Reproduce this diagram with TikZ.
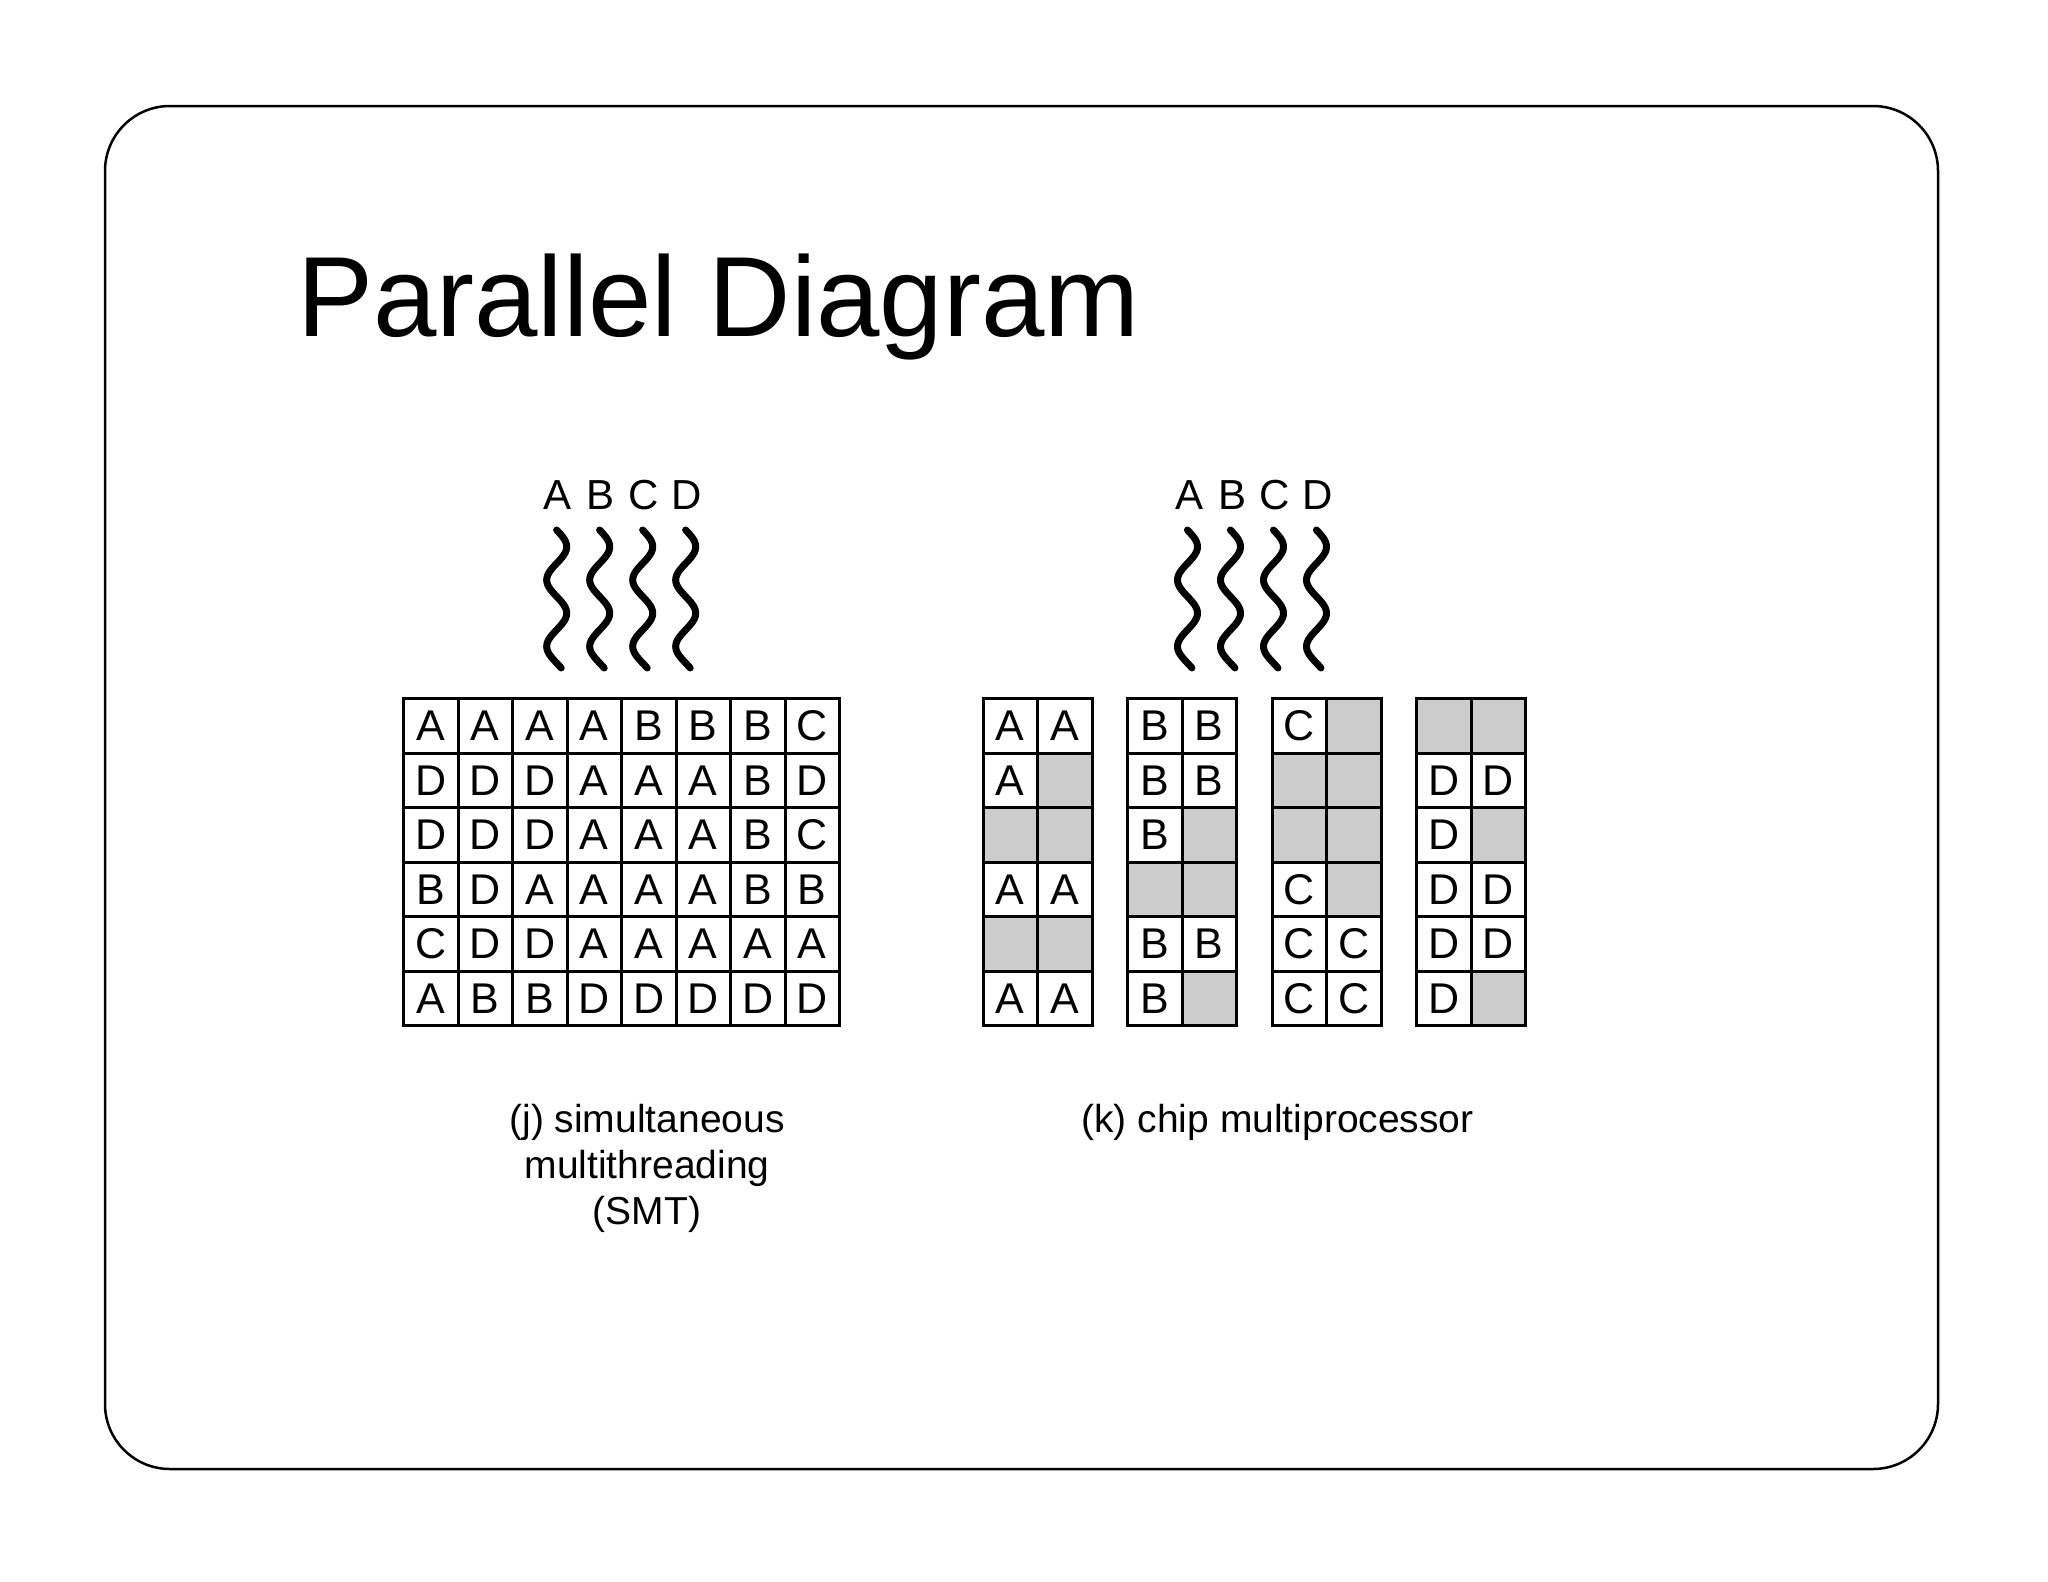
\documentclass[tikz,border=0pt]{standalone}
\usepackage{fontspec}
\setmainfont{Liberation Sans}
\definecolor{cellgray}{RGB}{204,204,204}
\begin{document}
\begin{tikzpicture}[x=1pt,y=-1pt,
  frame/.style={draw=black, line width=2.5pt, rounded corners=65pt, minimum width=1833pt, minimum height=1363pt, inner sep=0pt},
  busy/.style={draw=black, fill=white, line width=3pt, minimum width=54.5pt, minimum height=54.5pt, inner sep=0pt, outer sep=0pt, font=\fontsize{43pt}{43pt}\selectfont},
  idle/.style={busy, fill=cellgray},
  thread/.style={draw=black, line width=7pt, line cap=round},
  tlabel/.style={inner sep=0pt, font=\fontsize{42pt}{42pt}\selectfont},
  captext/.style={inner sep=0pt, anchor=base, font=\fontsize{39pt}{47pt}\selectfont},
]
\useasboundingbox (0,0) rectangle (2048,1582);
\fill[white] (0,0) rectangle (2048,1582);
\node[frame] (border) at (1021.5,787.5) {};
\node[inner sep=0pt, anchor=base west, font=\fontsize{114pt}{130pt}\selectfont] (title) at (297,336.7) {Parallel Diagram};

% ---- SMT threads ----
\foreach \n/\cx in {A/556.7, B/599.7, C/642.7, D/685.7} {
  \node[tlabel] (smtlab\n) at (\cx+1,495) {\n};
  \draw[thread] plot[domain=530:668, samples=90, smooth] ({\cx+10*cos((\x-546.7)*5.41353)}, \x);
}
% ---- CMP threads ----
\foreach \n/\cx in {A/1187.5, B/1230.5, C/1273.5, D/1316.5} {
  \node[tlabel] (cmplab\n) at (\cx+1.5,495) {\n};
  \draw[thread] plot[domain=530:668, samples=90, smooth] ({\cx+10*cos((\x-546.7)*5.41353)}, \x);
}

% ---- SMT grid ----
\foreach \row [count=\r from 0] in {{A,A,A,A,B,B,B,C},{D,D,D,A,A,A,B,D},{D,D,D,A,A,A,B,C},{B,D,A,A,A,A,B,B},{C,D,D,A,A,A,A,A},{A,B,B,D,D,D,D,D}} {
  \foreach \l [count=\c from 0] in \row {
    \node[busy] (smt-\r-\c) at (430.75+54.5*\c, 725.75+54.5*\r) {\l};
  }
}

% ---- CMP grids ----
\foreach \r/\sa/\la/\sb/\lb in {0/busy/A/busy/A, 1/busy/A/idle/{}, 2/idle/{}/idle/{}, 3/busy/A/busy/A, 4/idle/{}/idle/{}, 5/busy/A/busy/A} {
  \node[\sa] (cmpA-\r-0) at (1010.25, 725.75+54.5*\r) {\la};
  \node[\sb] (cmpA-\r-1) at (1064.75, 725.75+54.5*\r) {\lb};
}
\foreach \r/\sa/\la/\sb/\lb in {0/busy/B/busy/B, 1/busy/B/busy/B, 2/busy/B/idle/{}, 3/idle/{}/idle/{}, 4/busy/B/busy/B, 5/busy/B/idle/{}} {
  \node[\sa] (cmpB-\r-0) at (1154.75, 725.75+54.5*\r) {\la};
  \node[\sb] (cmpB-\r-1) at (1209.25, 725.75+54.5*\r) {\lb};
}
\foreach \r/\sa/\la/\sb/\lb in {0/busy/C/idle/{}, 1/idle/{}/idle/{}, 2/idle/{}/idle/{}, 3/busy/C/idle/{}, 4/busy/C/busy/C, 5/busy/C/busy/C} {
  \node[\sa] (cmpC-\r-0) at (1299.25, 725.75+54.5*\r) {\la};
  \node[\sb] (cmpC-\r-1) at (1353.75, 725.75+54.5*\r) {\lb};
}
\foreach \r/\sa/\la/\sb/\lb in {0/idle/{}/idle/{}, 1/busy/D/busy/D, 2/busy/D/idle/{}, 3/busy/D/busy/D, 4/busy/D/busy/D, 5/busy/D/idle/{}} {
  \node[\sa] (cmpD-\r-0) at (1443.75, 725.75+54.5*\r) {\la};
  \node[\sb] (cmpD-\r-1) at (1498.25, 725.75+54.5*\r) {\lb};
}

% ---- captions ----
\node[captext] (capj1) at (647,1132) {(j) simultaneous};
\node[captext] (capj2) at (647,1178) {multithreading};
\node[captext] (capj3) at (647,1224) {(SMT)};
\node[captext] (capk) at (1277.5,1132) {(k) chip multiprocessor};
\end{tikzpicture}
\end{document}
